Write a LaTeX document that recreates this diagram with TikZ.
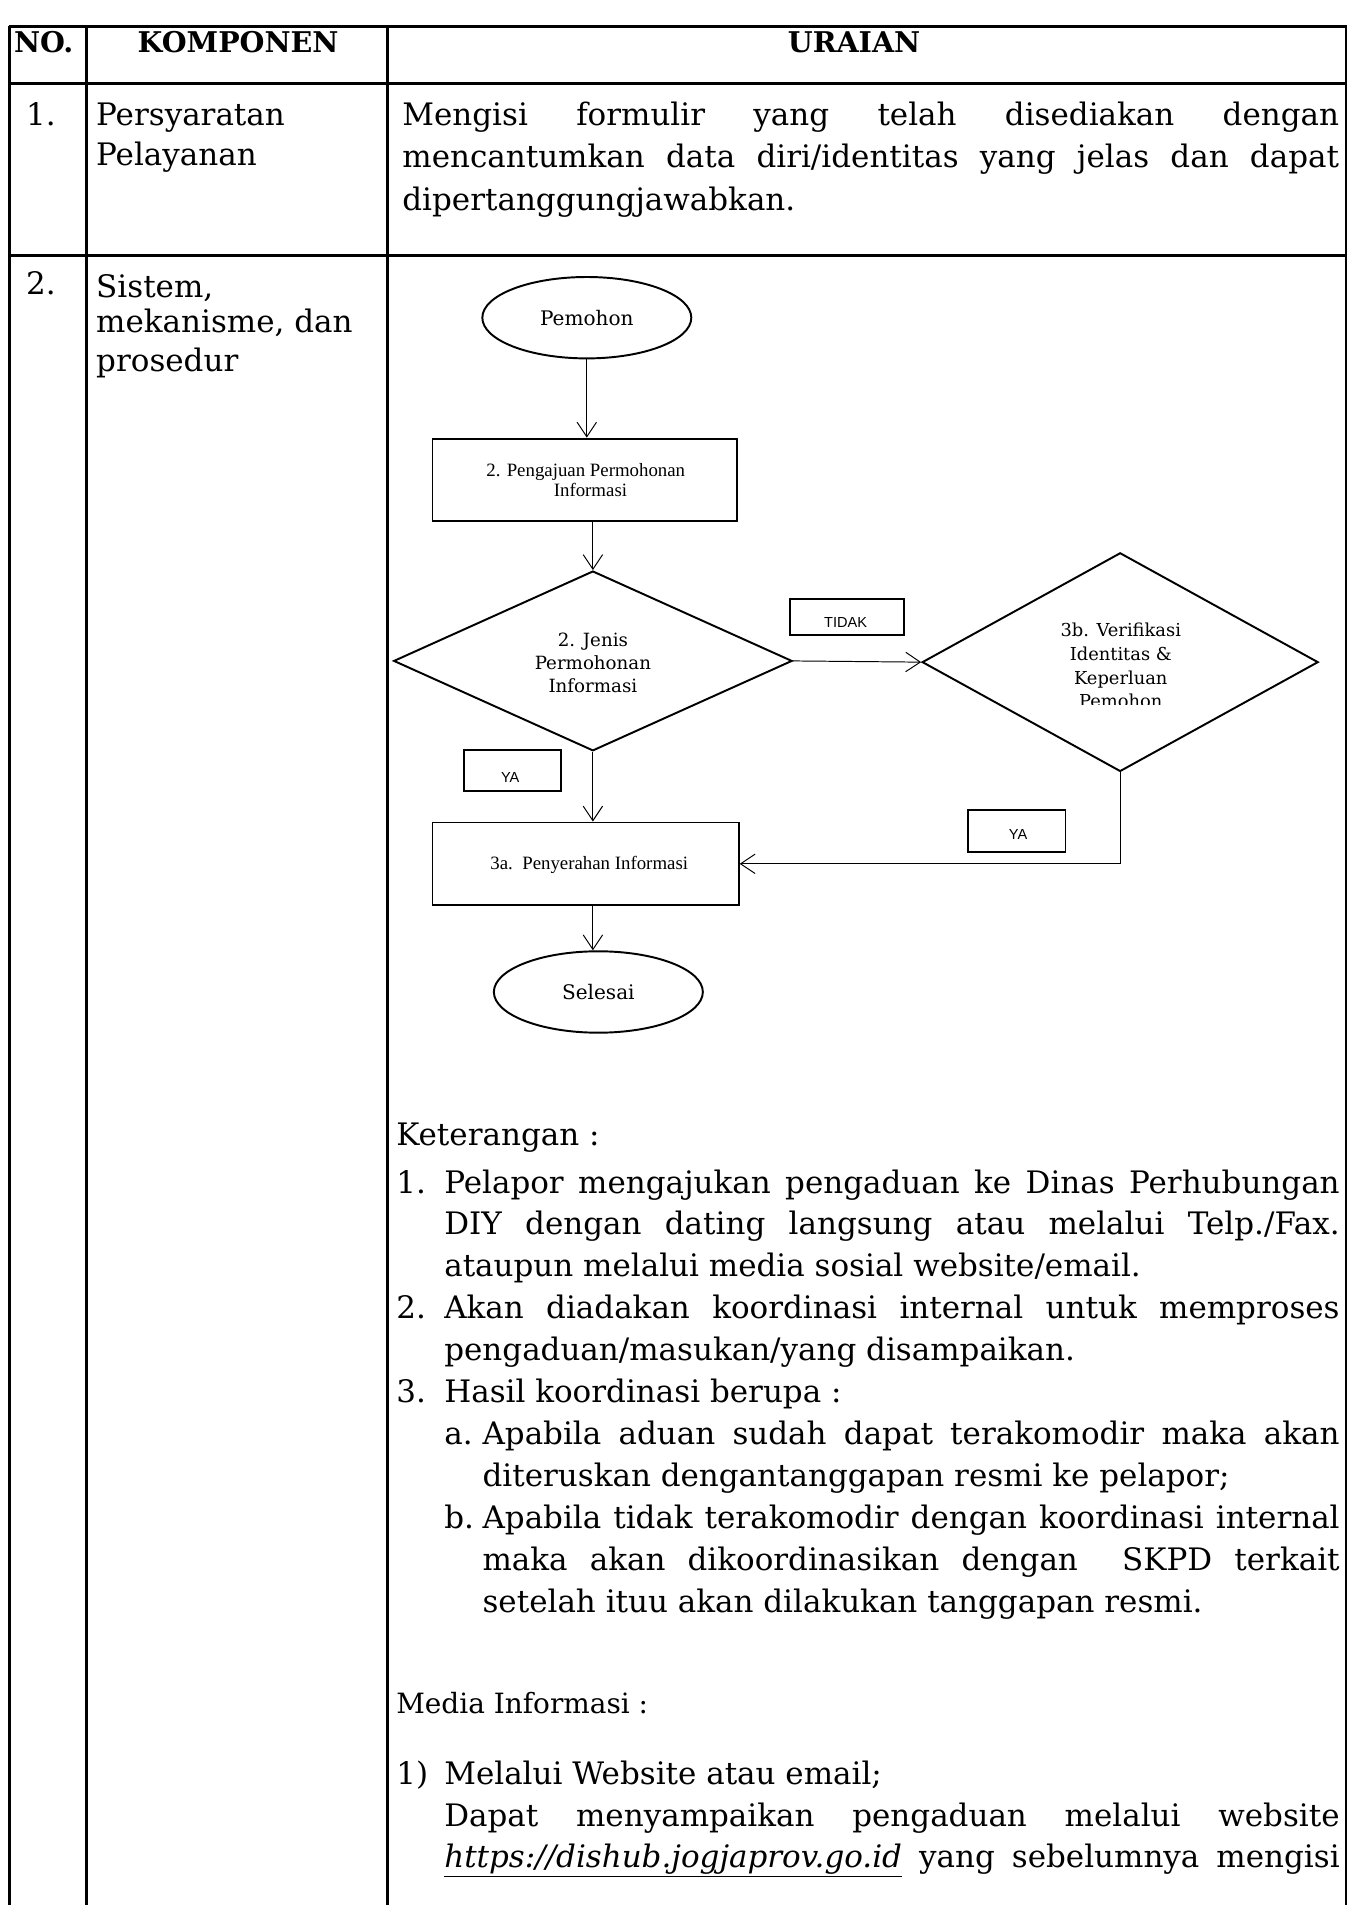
\documentclass[tikz,border=0pt]{standalone}
\usepackage{fontspec}
\setmainfont{DejaVu Serif}
\newfontfamily\timesf{Liberation Serif}
\newfontfamily\arialf{Liberation Sans}
\usetikzlibrary{shapes.geometric,arrows.meta}
\newcommand{\jline}[2]{\makebox[#1][s]{#2}}
\begin{document}
\begin{tikzpicture}[x=1pt,y=-1pt,
  tblv/.style={line width=2.2pt},
  tblh/.style={line width=2.6pt},
  body/.style={font=\fontsize{25.5}{30}\selectfont, anchor=base west, inner sep=0pt},
  bodyr/.style={font=\fontsize{25.5}{30}\selectfont, anchor=base east, inner sep=0pt},
  small/.style={font=\fontsize{23}{28}\selectfont, anchor=base west, inner sep=0pt},
  head/.style={font=\bfseries\fontsize{23.5}{28}\selectfont, anchor=base, inner sep=0pt},
  term/.style={ellipse, draw, line width=1.6pt, minimum width=172pt, minimum height=67pt, inner sep=0pt, font=\fontsize{16.5}{20}\selectfont},
  proc/.style={rectangle, draw, line width=1.6pt, minimum height=68pt, inner sep=0pt},
  dec/.style={diamond, draw, line width=1.6pt, inner sep=0pt},
  lbl/.style={rectangle, draw, line width=1.6pt, inner sep=0pt},
  boxtxt/.style={font=\timesf\fontsize{15.5}{17}\selectfont, align=center, inner sep=0pt},
  dtxt/.style={font=\fontsize{15}{19}\selectfont, anchor=base, inner sep=0pt},
  ltxt/.style={font=\arialf\fontsize{12}{14}\selectfont, anchor=base, inner sep=0pt},
  conn/.style={line width=0.8pt, -{Straight Barb[length=12pt,width=16pt,line width=0.8pt]}}
]
\useasboundingbox (0,0) rectangle (1115,1568);
\fill[white] (0,0) rectangle (1115,1568);

% ---------- table ----------
\draw[tblh] (7,22) -- (1109,22);
\draw[tblh] (7,69) -- (1109,69);
\draw[tblh] (7,210) -- (1109,210);
\draw[tblv] (8,21) -- (8,1568);
\draw[tblv] (71,21) -- (71,1568);
\draw[tblv] (319,21) -- (319,1568);
\draw[tblv] (1108,21) -- (1108,1568);

% header
\node[head] (hno) at (36,43) {NO.};
\node[head] (hkomp) at (196,43) {KOMPONEN};
\node[head] (hur) at (703,43) {URAIAN};

% row 1
\node[bodyr] (n1) at (46,103) {1.};
\node[body] (k1a) at (79,103) {Persyaratan};
\node[body] (k1b) at (79,136) {Pelayanan};
\node[body] (u1a) at (331,103) {\jline{771pt}{Mengisi formulir yang telah disediakan dengan}};
\node[body] (u1b) at (331,138) {\jline{771pt}{mencantumkan data diri/identitas yang jelas dan dapat}};
\node[body] (u1c) at (331,173) {dipertanggungjawabkan.};

% row 2 left
\node[bodyr] (n2) at (46,242) {2.};
\node[body] (k2a) at (79,245) {Sistem,};
\node[body] (k2b) at (79,274) {mekanisme, dan};
\node[body] (k2c) at (79,306) {prosedur};

% ---------- flowchart ----------
\node[term] (pem) at (483,261.5) {Pemohon};
\node[proc, minimum width=251pt] (box2) at (481.5,395) {};
\node[boxtxt] (box2t) at (486,395) {2. Pengajuan Permohonan\hspace*{0.5em}\\Informasi};
\node[dec, minimum width=328pt, minimum height=148pt] (d1) at (488,544) {};
\node[dtxt] (d1a) at (488,532) {2. Jenis};
\node[dtxt] (d1b) at (488,551) {Permohonan};
\node[dtxt] (d1c) at (488,570) {Informasi};
\node[dec, minimum width=326pt, minimum height=180pt] (d2) at (922,545) {};
\node[dtxt, font=\fontsize{14.7}{18}\selectfont] (d2a) at (922.5,524) {3b. Verifikasi};
\node[dtxt, font=\fontsize{14.7}{18}\selectfont] (d2b) at (922.5,543.5) {Identitas \&};
\node[dtxt, font=\fontsize{14.7}{18}\selectfont] (d2c) at (922.5,563) {Keperluan};
\begin{scope}
  \clip (820,565) rectangle (1030,579.5);
  \node[dtxt, font=\fontsize{14.7}{18}\selectfont] (d2d) at (922.5,582.5) {Pemohon};
\end{scope}
\node[proc, minimum width=252pt] (box3a) at (482,711) {};
\node[boxtxt] (box3at) at (485,712) {3a.\ \ Penyerahan Informasi};
\node[term] (sel) at (492.5,816.5) {Selesai};

% labels
\node[lbl, minimum width=94pt, minimum height=30pt] (tidak) at (697,508) {};
\begin{scope}
  \clip (652,495) rectangle (742,515.5);
  \node[ltxt] (tidakt) at (696,516.5) {TIDAK};
\end{scope}
\node[lbl, minimum width=80pt, minimum height=34pt] (ya1) at (422,634) {};
\node[ltxt] (ya1t) at (420,644) {YA};
\node[lbl, minimum width=80pt, minimum height=34pt] (ya2) at (837,684) {};
\node[ltxt] (ya2t) at (838,691) {YA};

% connectors
\draw[conn] (pem.south) -- (pem.south |- box2.north);
\draw[conn] (d1.north |- box2.south) -- (d1.north);
\draw[conn] (d1.east) -- (d2.west);
\draw[conn] (d1.south) -- (d1.south |- box3a.north);
\draw[conn] (d2.south) |- (box3a.east);
\draw[conn] (d1.south |- box3a.south) -- (d1.south |- sel.north);

% ---------- keterangan ----------
\node[body] (ket) at (326,943) {Keterangan :};
\node[body] (i1n) at (326,982) {1.};
\node[body] (i1a) at (365.5,982) {\jline{737pt}{Pelapor mengajukan pengaduan ke Dinas Perhubungan}};
\node[body] (i1b) at (365.5,1016.5) {\jline{737pt}{DIY dengan dating langsung atau melalui Telp./Fax.}};
\node[body] (i1c) at (365.5,1051) {ataupun melalui media sosial website/email.};
\node[body] (i2n) at (326,1085.5) {2.};
\node[body] (i2a) at (365.5,1085.5) {\jline{737pt}{Akan diadakan koordinasi internal untuk memproses}};
\node[body] (i2b) at (365.5,1120) {pengaduan/masukan/yang disampaikan.};
\node[body] (i3n) at (326,1154.5) {3.};
\node[body] (i3a) at (365.5,1154.5) {Hasil koordinasi berupa :};
\node[body] (ian) at (365.5,1189) {a.};
\node[body] (iaa) at (397,1189) {\jline{705.5pt}{Apabila aduan sudah dapat terakomodir maka akan}};
\node[body] (iab) at (397,1223.5) {diteruskan dengantanggapan resmi ke pelapor;};
\node[body] (ibn) at (365.5,1258) {b.};
\node[body] (iba) at (397,1258) {\jline{705.5pt}{Apabila tidak terakomodir dengan koordinasi internal}};
\node[body] (ibb) at (397,1292.5) {\jline{705.5pt}{maka akan dikoordinasikan dengan\ \ SKPD terkait}};
\node[body] (ibc) at (397,1327) {setelah ituu akan dilakukan tanggapan resmi.};

% ---------- media informasi ----------
\node[small] (med) at (326,1410) {Media Informasi :};
\node[body] (m1n) at (326,1469) {1)};
\node[body] (m1a) at (365.5,1469) {Melalui Website atau email;};
\node[body] (m1b) at (365.5,1503) {\jline{737pt}{Dapat menyampaikan pengaduan melalui website}};
\node[body] (m1c) at (365.5,1537) {\jline{737pt}{\underline{\textit{https://dishub.jogjaprov.go.id}} yang sebelumnya mengisi}};
\end{tikzpicture}
\end{document}
